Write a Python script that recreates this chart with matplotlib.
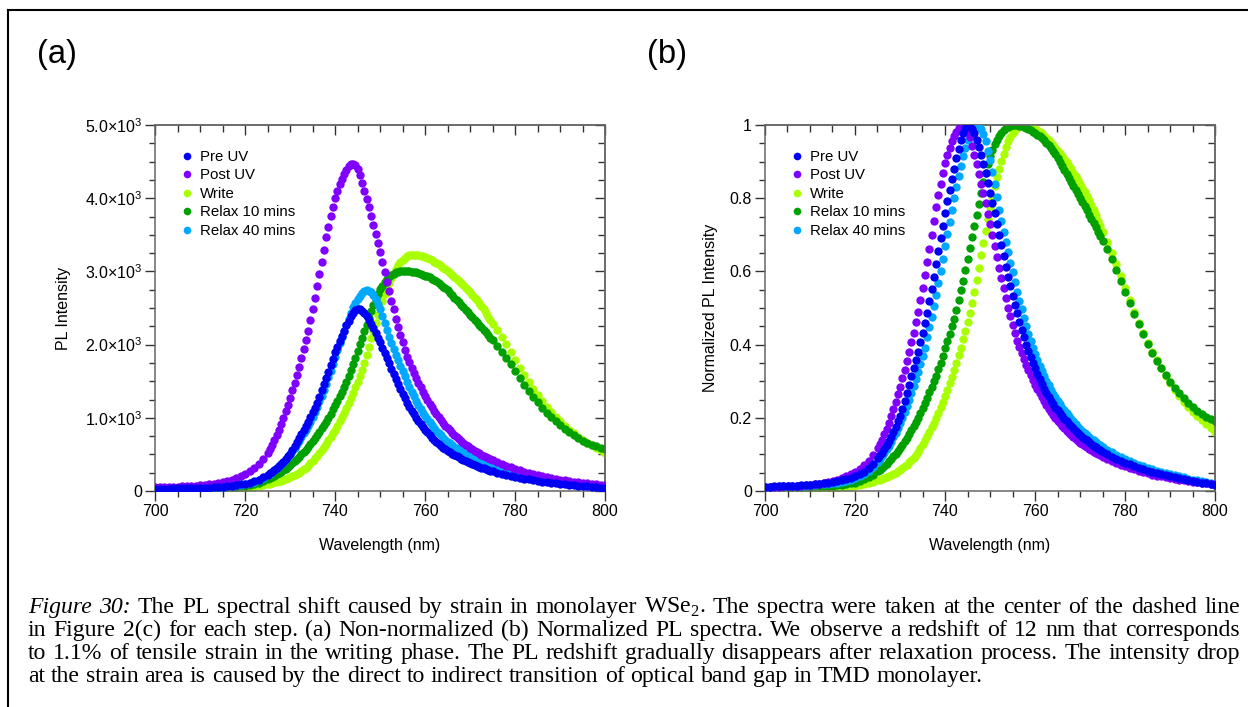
import numpy as np
import matplotlib
matplotlib.use("Agg")
import matplotlib.pyplot as plt
from matplotlib.lines import Line2D
from matplotlib.ticker import MultipleLocator, FuncFormatter

plt.rcParams['font.family'] = ['Liberation Sans', 'DejaVu Sans']
plt.rcParams['mathtext.fontset'] = 'custom'
plt.rcParams['mathtext.rm'] = 'Liberation Sans'

# ---------------- data ----------------
SERIES = ["Pre UV", "Post UV", "Write", "Relax 10 mins", "Relax 40 mins"]
COLORS = ["#0000f5", "#8000ff", "#a8ff00", "#00a000", "#00a8ff"]
PEAK_COUNTS = [2490, 4470, 3230, 3010, 2740]
ZORDER = [5, 4, 1, 2, 3]

# wavelength sampling (nm)
WL_LEFT = list(range(700, 726))                       # 1 nm steps
WL_CORE = [725.5 + 0.5 * i for i in range(100)]       # 0.5 nm steps
WL_RIGHT = list(range(776, 801))                      # 1 nm steps

# normalized PL spectra
PRE_UV_LEFT = [.012, .012, .013, .013, .014, .014, .015, .015, .016, .016, .017, .018, .019,
               .021, .022, .024, .026, .029, .032, .036, .040, .046, .053, .063, .075, .089]
PRE_UV_CORE = [.097, .105, .115, .125, .136, .148, .161, .175, .190, .205,
               .225, .246, .267, .290, .313, .336, .358, .380, .406, .432,
               .458, .485, .518, .552, .586, .620, .655, .690, .725, .760,
               .792, .822, .852, .880, .910, .935, .958, .977, .992, 1.000,
               .998, .990, .977, .960, .940, .917, .893, .868, .842, .815,
               .787, .759, .730, .700, .671, .642, .613, .585, .559, .534,
               .509, .485, .463, .441, .420, .400, .383, .367, .351, .335,
               .321, .307, .293, .280, .269, .258, .247, .237, .228, .220,
               .212, .205, .198, .191, .184, .177, .171, .165, .159, .153,
               .148, .143, .138, .133, .128, .124, .119, .115, .111, .107]
PRE_UV_RIGHT = [.100, .094, .088, .082, .077, .073, .068, .064, .060, .056, .052, .049, .046,
                .043, .040, .037, .035, .032, .030, .027, .025, .023, .021, .019, .017]

POST_UV_LEFT = [.011, .011, .012, .012, .013, .013, .014, .015, .015, .016, .017, .019, .020,
                .022, .025, .027, .031, .035, .040, .046, .052, .060, .070, .083, .098, .117]
POST_UV_CORE = [.128, .140, .155, .170, .187, .205, .224, .243, .264, .285,
                .308, .331, .355, .380, .406, .433, .461, .490, .522, .555,
                .590, .625, .662, .700, .738, .775, .808, .840, .869, .895,
                .918, .938, .955, .970, .982, .992, .998, 1.000, .996, .985,
                .966, .942, .918, .893, .867, .840, .813, .786, .758, .730,
                .700, .670, .640, .610, .582, .555, .527, .500, .477, .454,
                .432, .410, .393, .377, .361, .345, .331, .317, .303, .290,
                .278, .267, .256, .245, .235, .225, .216, .207, .199, .192,
                .185, .178, .171, .165, .159, .153, .148, .142, .137, .132,
                .128, .123, .119, .115, .111, .107, .104, .100, .097, .094]
POST_UV_RIGHT = [.088, .082, .077, .072, .068, .063, .059, .055, .051, .048, .045, .042, .040,
                 .037, .035, .033, .031, .029, .027, .025, .024, .022, .021, .019, .018]

WRITE_LEFT = [.004, .004, .004, .004, .004, .004, .005, .005, .005, .005, .005, .006, .006,
              .007, .007, .008, .009, .010, .011, .012, .014, .016, .019, .022, .025, .029]
WRITE_CORE = [.031, .034, .036, .039, .041, .044, .047, .050, .054, .058,
              .062, .067, .072, .078, .084, .091, .099, .107, .117, .128,
              .139, .150, .162, .174, .187, .200, .214, .229, .244, .260,
              .277, .294, .312, .330, .350, .371, .392, .415, .438, .462,
              .486, .513, .543, .576, .610, .645, .678, .711, .743, .775,
              .804, .832, .857, .880, .902, .921, .939, .955, .968, .979,
              .987, .993, .997, .999, 1.000, .999, .997, .995, .993, .990,
              .986, .982, .977, .970, .964, .958, .952, .945, .938, .930,
              .923, .915, .907, .898, .889, .880, .870, .860, .850, .840,
              .829, .818, .806, .795, .782, .768, .753, .738, .723, .708]
WRITE_RIGHT = [.680, .650, .620, .588, .555, .522, .490, .460, .432, .405, .380, .357, .335,
               .315, .295, .277, .260, .244, .230, .216, .204, .193, .182, .172, .162]

RELAX10_LEFT = [.011, .011, .011, .011, .011, .011, .011, .012, .012, .012, .012, .013, .013,
                .014, .014, .015, .016, .017, .019, .021, .023, .027, .032, .038, .045, .054]
RELAX10_CORE = [.058, .063, .069, .075, .081, .088, .095, .102, .110, .118,
                .127, .136, .145, .155, .166, .177, .188, .200, .213, .227,
                .241, .255, .270, .285, .300, .315, .333, .351, .370, .390,
                .410, .430, .450, .470, .495, .522, .548, .575, .605, .635,
                .665, .695, .725, .755, .785, .815, .843, .870, .893, .915,
                .932, .947, .960, .970, .979, .987, .992, .995, .998, 1.000,
                1.000, .999, .998, .996, .994, .992, .989, .986, .982, .978,
                .974, .969, .964, .958, .951, .944, .936, .928, .920, .911,
                .900, .888, .877, .866, .856, .845, .834, .823, .811, .800,
                .789, .778, .767, .755, .743, .731, .720, .708, .696, .684]
RELAX10_RIGHT = [.660, .633, .605, .575, .545, .514, .483, .455, .428, .402, .378, .356, .335,
                 .316, .298, .282, .267, .253, .240, .229, .219, .210, .203, .196, .190]

RELAX40_LEFT = [.012, .012, .012, .013, .013, .013, .014, .014, .015, .015, .016, .017, .018,
                .019, .020, .021, .023, .025, .028, .031, .035, .040, .046, .055, .066, .080]
RELAX40_CORE = [.087, .095, .104, .114, .124, .135, .147, .159, .172, .185,
                .200, .216, .233, .250, .268, .287, .306, .325, .346, .368,
                .392, .420, .447, .476, .505, .535, .567, .600, .635, .670,
                .703, .736, .768, .800, .830, .860, .889, .915, .938, .958,
                .972, .985, .995, 1.000, .998, .990, .975, .955, .930, .905,
                .872, .838, .803, .768, .738, .708, .680, .652, .624, .597,
                .571, .545, .520, .496, .473, .451, .430, .410, .391, .373,
                .357, .342, .328, .314, .301, .289, .277, .266, .256, .246,
                .237, .228, .220, .212, .204, .197, .190, .183, .176, .170,
                .164, .158, .153, .148, .143, .138, .133, .129, .125, .121]
RELAX40_RIGHT = [.113, .106, .099, .093, .087, .082, .077, .072, .068, .064, .060, .056, .052,
                 .049, .046, .043, .040, .037, .034, .031, .029, .026, .024, .021, .019]

NORM_PARTS = [
    (PRE_UV_LEFT, PRE_UV_CORE, PRE_UV_RIGHT),
    (POST_UV_LEFT, POST_UV_CORE, POST_UV_RIGHT),
    (WRITE_LEFT, WRITE_CORE, WRITE_RIGHT),
    (RELAX10_LEFT, RELAX10_CORE, RELAX10_RIGHT),
    (RELAX40_LEFT, RELAX40_CORE, RELAX40_RIGHT),
]

X_TICKS = [700, 720, 740, 760, 780, 800]

CAPTION_LINES = [
    "Figure 30: The PL spectral shift caused by strain in monolayer WSe2. The spectra were taken at the center of the dashed line",
    "in Figure 2(c) for each step. (a) Non-normalized (b) Normalized PL spectra. We observe a redshift of 12 nm that corresponds",
    "to 1.1% of tensile strain in the writing phase. The PL redshift gradually disappears after relaxation process. The intensity drop",
    "at the strain area is caused by the direct to indirect transition of optical band gap in TMD monolayer.",
]


def assemble(parts):
    xs, ys = [], []
    for wl, vals in zip((WL_LEFT, WL_CORE, WL_RIGHT), parts):
        n = min(len(wl), len(vals))
        xs.extend(wl[:n])
        ys.extend(vals[:n])
    return np.array(xs, float), np.array(ys, float)


# ---------------- figure ----------------
W, H = 1248, 707
fig = plt.figure(figsize=(W / 100, H / 100), dpi=100)


def px_axes(left, top, right, bottom):
    return fig.add_axes([left / W, 1 - bottom / H, (right - left) / W, (bottom - top) / H])


ax_a = px_axes(155, 125, 605, 491)
ax_b = px_axes(765, 125, 1215, 491)

SPINE_C = "#666666"
TICK_C = "#333333"
MS = 6.0


def style(ax, ymax, ymajor, yminor, fmt):
    ax.set_xlim(700, 800)
    ax.set_ylim(0, ymax)
    ax.set_xticks(X_TICKS)
    ax.xaxis.set_minor_locator(MultipleLocator(5))
    ax.yaxis.set_major_locator(MultipleLocator(ymajor))
    ax.yaxis.set_minor_locator(MultipleLocator(yminor))
    ax.yaxis.set_major_formatter(FuncFormatter(fmt))
    ax.tick_params(which='both', direction='out', top=False, right=False,
                   labelsize=11.5, pad=2.5, color=TICK_C, width=1.0, labelcolor='black')
    ax.tick_params(which='major', length=7)
    ax.tick_params(which='minor', length=4.5)
    for s in ax.spines.values():
        s.set_color(SPINE_C)
        s.set_linewidth(1.1)
    sx = ax.secondary_xaxis('top')
    sx.set_xticks(X_TICKS)
    sx.xaxis.set_minor_locator(MultipleLocator(5))
    sx.tick_params(which='both', direction='in', labeltop=False, color=TICK_C, width=1.0)
    sx.tick_params(which='major', length=7)
    sx.tick_params(which='minor', length=5)
    sx.spines['top'].set_color(SPINE_C)
    sx.spines['top'].set_linewidth(1.1)
    sy = ax.secondary_yaxis('right')
    sy.yaxis.set_major_locator(MultipleLocator(ymajor))
    sy.yaxis.set_minor_locator(MultipleLocator(yminor))
    sy.tick_params(which='both', direction='in', labelright=False, color=TICK_C, width=1.0)
    sy.tick_params(which='major', length=7)
    sy.tick_params(which='minor', length=5)
    sy.spines['right'].set_color(SPINE_C)
    sy.spines['right'].set_linewidth(1.1)


def fmt_counts(v, p):
    if abs(v) < 1e-9:
        return "0"
    return r"%.1f×10$^{\mathregular{3}}$" % (v / 1000.0)


def fmt_norm(v, p):
    if abs(v) < 1e-9:
        return "0"
    if abs(v - 1) < 1e-9:
        return "1"
    return "%.1f" % v


style(ax_a, 5000, 1000, 250, fmt_counts)
style(ax_b, 1.0, 0.2, 0.05, fmt_norm)

handles = []
for i, name in enumerate(SERIES):
    x, y = assemble(NORM_PARTS[i])
    ax_a.plot(x, y * PEAK_COUNTS[i], ls='none', marker='o', ms=MS, mew=0,
              color=COLORS[i], zorder=ZORDER[i])
    ax_b.plot(x, y / y.max(), ls='none', marker='o', ms=MS, mew=0,
              color=COLORS[i], zorder=ZORDER[i])
    handles.append(Line2D([], [], ls='none', marker='o', ms=5.5, mew=0, color=COLORS[i]))

for ax, ylab, lx in ((ax_a, "PL Intensity", -0.186), (ax_b, "Normalized PL Intensity", -0.104)):
    ax.set_xlabel("Wavelength (nm)", fontsize=11.5)
    ax.xaxis.set_label_coords(0.5, -0.128)
    ax.set_ylabel(ylab, fontsize=11.5)
    ax.yaxis.set_label_coords(lx, 0.5)
    ax.legend(handles, SERIES, loc='upper left', bbox_to_anchor=(0.058, 0.932),
              frameon=False, fontsize=10.8, handlelength=0.75, handletextpad=0.5,
              labelspacing=0.3, borderpad=0, borderaxespad=0)

fig.text(37 / W, 1 - 55 / H, "(a)", fontsize=23.5, va='center', ha='left')
fig.text(647 / W, 1 - 55 / H, "(b)", fontsize=23.5, va='center', ha='left')

# border
fig.add_artist(Line2D([8 / W, 8 / W], [1 - 10 / H, 0], transform=fig.transFigure,
                      color='black', lw=1.5))
fig.add_artist(Line2D([8 / W, 1], [1 - 10 / H, 1 - 10 / H], transform=fig.transFigure,
                      color='black', lw=1.5))

# ---------------- caption (justified) ----------------
fig.canvas.draw()
renderer = fig.canvas.get_renderer()
SERIF = "Liberation Serif"


def tokens(i, line):
    out = []
    for j, w in enumerate(line.split(" ")):
        st = "italic" if (i == 0 and j < 2) else "normal"
        if w == "WSe2.":
            w = r"WSe$_{\mathregular{2}}$."
        out.append((w, st))
    return out


def measure(s, st, size):
    t = fig.text(0, 0, s, fontsize=size, family=SERIF, style=st)
    w = t.get_window_extent(renderer=renderer).width
    t.remove()
    return w


toks = [tokens(i, l) for i, l in enumerate(CAPTION_LINES)]
space10 = measure("x x", "normal", 10) - measure("xx", "normal", 10)
nat = []
for tl in toks[:3]:
    ws = [measure(s, st, 10) for s, st in tl]
    nat.append(sum(ws) + space10 * (len(tl) - 1))
size = 10 * 1196 / max(nat)
space = space10 * size / 10

X0, X1 = 28, 1240
BASES = [613, 636, 659, 682]
for i, tl in enumerate(toks):
    ws = [measure(s, st, size) for s, st in tl]
    if i < 3:
        gap = (X1 - X0 - sum(ws)) / (len(tl) - 1)
    else:
        gap = space
    x = X0
    for (s, st), w in zip(tl, ws):
        fig.text(x / W, 1 - BASES[i] / H, s, fontsize=size, family=SERIF, style=st,
                 va='baseline', ha='left')
        x += w + gap

fig.savefig("out.png", dpi=100)
